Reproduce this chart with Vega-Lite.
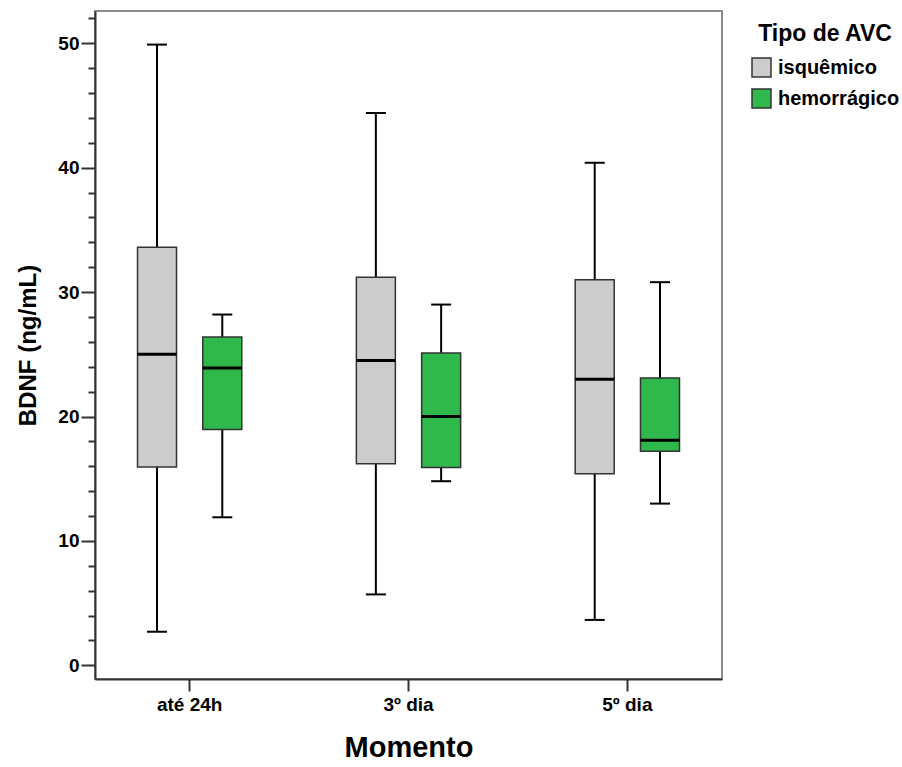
{
  "$schema": "https://vega.github.io/schema/vega-lite/v6.json",
  "width": 627,
  "height": 668,
  "autosize": "none",
  "padding": {"left": 95, "top": 11, "right": 180, "bottom": 88},
  "background": "white",
  "config": {
    "font": "Liberation Sans",
    "view": {"stroke": "#8c8c8c", "strokeWidth": 2}
  },
  "data": {
    "values": [
      {"momento": "até 24h", "tipo": "isquêmico", "min": 2.7, "q1": 15.95, "median": 25.0, "q3": 33.6, "max": 49.9},
      {"momento": "até 24h", "tipo": "hemorrágico", "min": 11.9, "q1": 18.95, "median": 23.9, "q3": 26.4, "max": 28.2},
      {"momento": "3º dia", "tipo": "isquêmico", "min": 5.7, "q1": 16.2, "median": 24.5, "q3": 31.2, "max": 44.4},
      {"momento": "3º dia", "tipo": "hemorrágico", "min": 14.8, "q1": 15.9, "median": 20.0, "q3": 25.1, "max": 29.0},
      {"momento": "5º dia", "tipo": "isquêmico", "min": 3.65, "q1": 15.4, "median": 23.0, "q3": 31.0, "max": 40.4},
      {"momento": "5º dia", "tipo": "hemorrágico", "min": 13.0, "q1": 17.2, "median": 18.1, "q3": 23.1, "max": 30.8}
    ]
  },
  "encoding": {
    "x": {
      "field": "momento", "type": "nominal",
      "sort": ["até 24h", "3º dia", "5º dia"],
      "scale": {"paddingInner": 0.135, "paddingOuter": 0},
      "axis": {
        "title": "Momento", "labelAngle": 0,
        "labelFontSize": 19, "labelFontWeight": "bold", "labelColor": "black", "labelPadding": 4,
        "tickSize": 12, "tickWidth": 2, "tickColor": "#333",
        "domainColor": "#333", "domainWidth": 2,
        "titleFontSize": 29, "titleFontWeight": "bold", "titleColor": "black", "titlePadding": 19
      }
    },
    "xOffset": {
      "field": "tipo", "type": "nominal",
      "sort": ["isquêmico", "hemorrágico"],
      "scale": {"paddingInner": 0, "paddingOuter": 0.45}
    }
  },
  "resolve": {"axis": {"y": "independent"}},
  "layer": [
    {
      "mark": {"type": "rule", "color": "black", "strokeWidth": 2},
      "encoding": {
        "y": {
          "field": "min", "type": "quantitative",
          "scale": {"domain": [-1.1, 52.6], "nice": false, "zero": false},
          "axis": {
            "orient": "left", "title": "BDNF (ng/mL)", "values": [0, 10, 20, 30, 40, 50],
            "grid": false, "tickSize": 14, "tickWidth": 2, "tickColor": "#333",
            "labelFontSize": 19, "labelFontWeight": "bold", "labelColor": "black", "labelPadding": 2,
            "domainColor": "#333", "domainWidth": 2,
            "titleFontSize": 24, "titleFontWeight": "bold", "titleColor": "black", "titlePadding": 17
          }
        },
        "y2": {"field": "max"}
      }
    },
    {
      "mark": {"type": "bar", "size": 39, "stroke": "#333", "strokeWidth": 1.5},
      "encoding": {
        "y": {"field": "q1", "type": "quantitative", "axis": null},
        "y2": {"field": "q3"},
        "fill": {
          "field": "tipo", "type": "nominal",
          "scale": {"domain": ["isquêmico", "hemorrágico"], "range": ["#cccccc", "#2fb84b"]},
          "legend": {
            "title": "Tipo de AVC", "orient": "none", "legendX": 656, "legendY": 12,
            "titleFontSize": 23, "titleFontWeight": "bold", "titleColor": "black", "titlePadding": 11,
            "titleAnchor": "middle",
            "labelFontSize": 20, "labelFontWeight": "bold", "labelColor": "black", "labelOffset": 6,
            "symbolType": "square", "symbolSize": 361, "symbolStrokeColor": "#333", "symbolStrokeWidth": 1.5,
            "rowPadding": 6
          }
        }
      }
    },
    {
      "mark": {"type": "tick", "color": "black", "opacity": 1, "thickness": 3, "size": 39},
      "encoding": {
        "y": {
          "field": "median", "type": "quantitative",
          "axis": {
            "orient": "left", "title": null, "labels": false, "domain": false, "grid": false,
            "values": [2, 4, 6, 8, 12, 14, 16, 18, 22, 24, 26, 28, 32, 34, 36, 38, 42, 44, 46, 48, 52],
            "tickSize": 7, "tickWidth": 2, "tickColor": "#333"
          }
        }
      }
    },
    {
      "mark": {"type": "tick", "color": "black", "opacity": 1, "thickness": 2, "size": 20},
      "encoding": {"y": {"field": "max", "type": "quantitative", "axis": null}}
    },
    {
      "mark": {"type": "tick", "color": "black", "opacity": 1, "thickness": 2, "size": 20},
      "encoding": {"y": {"field": "min", "type": "quantitative", "axis": null}}
    }
  ]
}
